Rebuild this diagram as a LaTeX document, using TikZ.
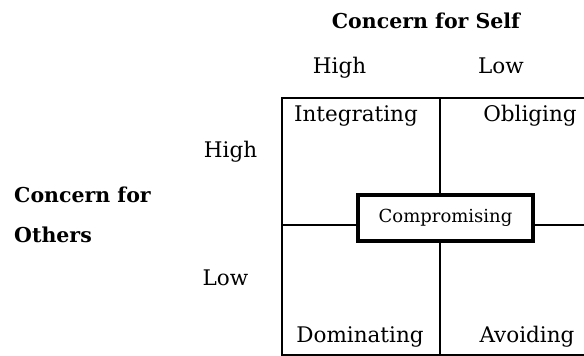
\documentclass[tikz,border=0pt]{standalone}
\usepackage{fontspec}
\setmainfont{DejaVu Serif}
\begin{document}
\begin{tikzpicture}[x=1pt,y=-1pt,
  grid/.style={line width=1.4pt,black},
  lbl/.style={font=\fontsize{21.5}{21.5}\selectfont,anchor=base,inner sep=0pt},
  ttl/.style={font=\fontsize{20.5}{20.5}\selectfont\bfseries,anchor=base,inner sep=0pt},
  comp/.style={draw,line width=4pt,fill=white,minimum width=175pt,minimum height=46pt,font=\fontsize{18}{18}\selectfont,inner sep=0pt}]
\useasboundingbox (0,0) rectangle (584,356);
% grid
\coordinate (tl) at (282,98);
\coordinate (tr) at (584,98);
\coordinate (bl) at (282,355);
\coordinate (br) at (584,355);
\coordinate (tm) at (440,98);
\coordinate (bm) at (440,355);
\coordinate (ml) at (282,225);
\coordinate (mr) at (584,225);
\draw[grid] (tr) -- (tl) -- (bl) -- (br);
\draw[grid] (tm) -- (bm);
\draw[grid] (ml) -- (mr);
\node[comp] (c) at (445.5,218) {Compromising};
% quadrant labels
\node[lbl] (i) at (356,121) {Integrating};
\node[lbl] (o) at (530,121) {Obliging};
\node[lbl] (d) at (360,342) {Dominating};
\node[lbl] (a) at (527,342) {Avoiding};
% axes
\node[ttl] (s) at (426,28) {Concern for Self};
\node[lbl] (sh) at (339.5,73) {High};
\node[lbl] (sl) at (501,73) {Low};
\node[lbl] (oh) at (230.5,157) {High};
\node[lbl] (ol) at (225.5,285) {Low};
\node[ttl,anchor=base west] (o1) at (14,202) {Concern for};
\node[ttl,anchor=base west] (o2) at (14,242) {Others};
\end{tikzpicture}
\end{document}
